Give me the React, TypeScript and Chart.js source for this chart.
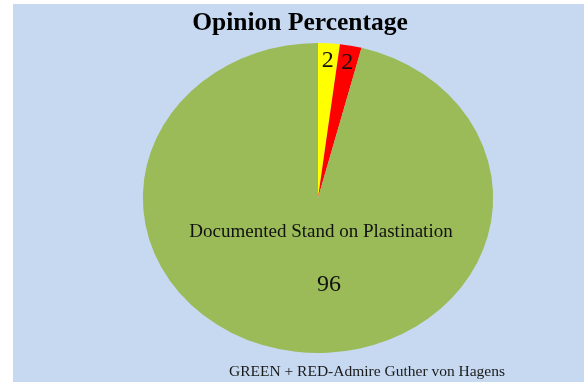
import { useEffect, useRef } from 'react';
import { Chart, registerables } from 'chart.js';

Chart.register(...registerables);

// Slice data, clockwise from 12 o'clock
const categories = ['', '', 'Documented Stand on Plastination'];
const values = [2, 2, 96];
const sliceColors = ['#ffff00', '#ff0000', '#9bbb59'];

const chartTitle = 'Opinion Percentage';
const footNote = 'GREEN + RED-Admire Guther von Hagens';

const BG = '#c6d9f0';
const SERIF = '"Liberation Serif", "Times New Roman", serif';
// The pie is drawn as a slightly wide ellipse
const X_STRETCH = 1.13;

const ellipsePie = {
  id: 'ellipsePie',
  beforeDatasetsDraw(chart: any) {
    const arc = chart.getDatasetMeta(0).data[0];
    const ctx = chart.ctx;
    ctx.save();
    ctx.translate(arc.x, 0);
    ctx.scale(X_STRETCH, 1);
    ctx.translate(-arc.x, 0);
  },
  afterDatasetsDraw(chart: any) {
    const ctx = chart.ctx;
    ctx.restore();

    const meta = chart.getDatasetMeta(0);
    ctx.save();
    ctx.fillStyle = '#111';
    ctx.textAlign = 'center';
    ctx.textBaseline = 'middle';

    meta.data.forEach((arc: any, i: number) => {
      const { x, y, startAngle, endAngle, outerRadius } = arc.getProps(
        ['x', 'y', 'startAngle', 'endAngle', 'outerRadius'],
        true
      );
      const value = String(values[i]);
      if (categories[i]) {
        ctx.font = `19px ${SERIF}`;
        ctx.fillText(categories[i], x + 3, y + outerRadius * 0.22);
        ctx.font = `24px ${SERIF}`;
        ctx.fillText(value, x + 11, y + outerRadius * 0.56);
      } else {
        const mid = (startAngle + endAngle) / 2;
        const r = outerRadius * 0.89;
        ctx.font = `24px ${SERIF}`;
        ctx.fillText(value, x + Math.cos(mid) * r * X_STRETCH, y + Math.sin(mid) * r);
      }
    });

    // Title
    ctx.fillStyle = '#000';
    ctx.font = `bold 25.5px ${SERIF}`;
    ctx.fillText(chartTitle, 287, 19);

    // Footnote
    ctx.font = `15.5px ${SERIF}`;
    ctx.fillStyle = '#1a1a1a';
    ctx.fillText(footNote, 354, 368);
    ctx.restore();
  },
};

export default function App() {
  const canvasRef = useRef<HTMLCanvasElement | null>(null);

  useEffect(() => {
    if (!canvasRef.current) return;
    const chart = new Chart(canvasRef.current, {
      type: 'pie',
      data: {
        labels: categories,
        datasets: [
          {
            data: values,
            backgroundColor: sliceColors,
            borderWidth: 0,
          },
        ],
      },
      options: {
        animation: false,
        responsive: true,
        maintainAspectRatio: false,
        layout: { padding: { top: 39, bottom: 29, left: 100, right: 61 } },
        plugins: {
          legend: { display: false },
          tooltip: { enabled: false },
          title: { display: false },
        },
      },
      plugins: [ellipsePie],
    });
    return () => chart.destroy();
  }, []);

  return (
    <div
      style={{
        position: 'absolute',
        left: 13,
        top: 4,
        width: 571,
        height: 378,
        background: BG,
      }}
    >
      <canvas ref={canvasRef} />
    </div>
  );
}
